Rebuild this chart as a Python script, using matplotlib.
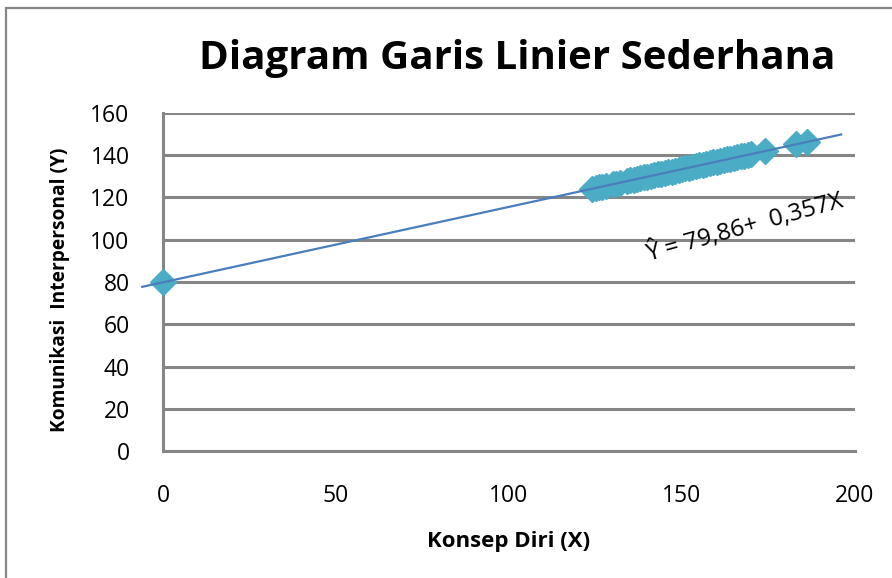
import matplotlib
matplotlib.use("Agg")
import matplotlib.pyplot as plt
from matplotlib.patches import Rectangle

plt.rcParams['font.family'] = ['Open Sans', 'DejaVu Sans']

x_vals = [0, 124, 125, 126, 127, 128, 130, 131, 132, 134, 135, 136, 137, 138, 139,
          140, 141, 142, 143, 144, 145, 146, 147, 148, 149, 150, 151, 152, 153, 154,
          155, 156, 157, 158, 159, 160, 161, 162, 163, 164, 165, 166, 167, 168, 169,
          170, 174, 183, 186]
y_vals = [79.9, 124.1, 124.5, 124.8, 125.2, 125.6, 126.3, 126.6, 127.0, 127.7, 128.1,
          128.4, 128.8, 129.1, 129.5, 129.8, 130.2, 130.6, 130.9, 131.3, 131.6, 132.0,
          132.3, 132.7, 133.1, 133.4, 133.8, 134.1, 134.5, 134.8, 135.2, 135.6, 135.9,
          136.3, 136.6, 137.0, 137.3, 137.7, 138.1, 138.4, 138.8, 139.1, 139.5, 139.8,
          140.2, 140.6, 142.0, 145.2, 146.3]

intercept = 79.86
slope = 0.357
trend_x = [-6, 196]
trend_y = [intercept + slope * v for v in trend_x]

x_ticks = [0, 50, 100, 150, 200]
y_ticks = [0, 20, 40, 60, 80, 100, 120, 140, 160]

title = "Diagram Garis Linier Sederhana"
xlabel = "Konsep Diri (X)"
ylabel = "Komunikasi  Interpersonal (Y)"
equation = "Ŷ = 79,86+  0,357X"

W, H = 892, 578
fig = plt.figure(figsize=(W / 100, H / 100), dpi=100)
ax = fig.add_axes([163 / W, 1 - 451 / H, (855 - 163) / W, (451 - 113) / H])

grid_col = "#868686"
ax.set_xlim(0, 200)
ax.set_ylim(0, 160)
ax.set_yticks(y_ticks)
ax.set_xticks(x_ticks)
ax.yaxis.grid(True, color=grid_col, linewidth=2.2)
ax.set_axisbelow(True)
for s in ["top", "right"]:
    ax.spines[s].set_visible(False)
for s in ["left", "bottom"]:
    ax.spines[s].set_color(grid_col)
    ax.spines[s].set_linewidth(2.2)
ax.tick_params(axis="both", length=0, labelsize=16.5, colors="black")
ax.tick_params(axis="x", pad=24)
ax.tick_params(axis="y", pad=24)

ax.plot(x_vals, y_vals, linestyle="none", marker="D", markersize=13,
        color="#4BACC6", markeredgecolor="#4BACC6", clip_on=False, zorder=3)
ax.plot(trend_x, trend_y, color="#4A7EBB", linewidth=1.6, clip_on=False, zorder=4)

ax.text(168, 106, equation, rotation=15.5, rotation_mode="anchor",
        ha="center", va="center", fontsize=17.5, transform=ax.transData)

fig.text(517 / W, 1 - 58 / H, title, ha="center", va="center",
         fontsize=29, fontweight="bold")
fig.text(509 / W, 1 - 541 / H, xlabel, ha="center", va="center",
         fontsize=16, fontweight="bold")
fig.text(60 / W, 1 - 290 / H, ylabel, ha="center", va="center",
         fontsize=13.8, fontweight="bold", rotation=90)

fig.patches.append(Rectangle((6 / W, -0.1), 1.2, 1 - 8 / H + 0.1,
                             transform=fig.transFigure, fill=False,
                             edgecolor=grid_col, linewidth=1.6))

fig.savefig("out.png", dpi=100)
